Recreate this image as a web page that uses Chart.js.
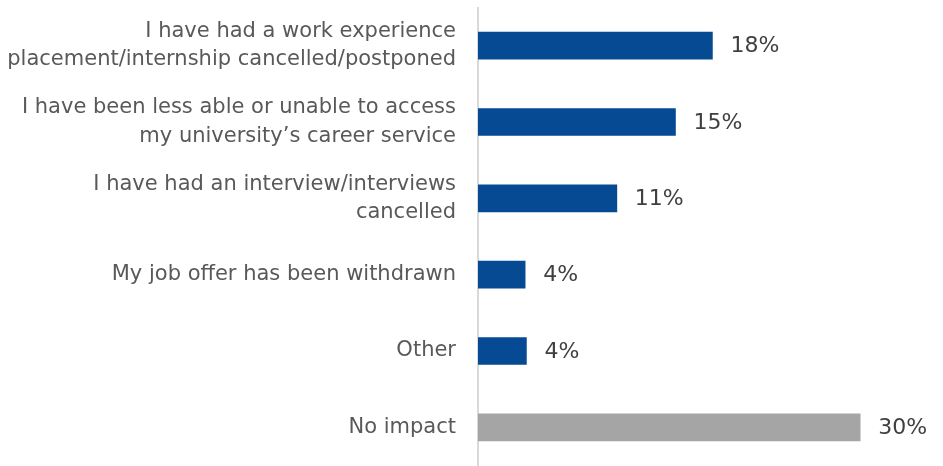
<!DOCTYPE html>
<html>
<head>
<meta charset="utf-8">
<script src="https://cdn.jsdelivr.net/npm/chart.js@4/dist/chart.umd.min.js"></script>
<style>
html,body{margin:0;padding:0;background:#fff;}
#wrap{width:943px;height:466px;position:relative;}
</style>
</head>
<body>
<div id="wrap"><canvas id="c"></canvas></div>
<script>
const categories = [
  ["I have had a work experience", "placement/internship cancelled/postponed"],
  ["I have been less able or unable to access", "my university\u2019s career service"],
  ["I have had an interview/interviews", "cancelled"],
  "My job offer has been withdrawn",
  "Other",
  "No impact"
];
const values = [18.4, 15.5, 10.9, 3.7, 3.8, 30];
const valueLabels = ["18%", "15%", "11%", "4%", "4%", "30%"];
const barColors = ["#064A93", "#064A93", "#064A93", "#064A93", "#064A93", "#A5A5A5"];

const FONT = '"DejaVu Sans", Verdana, sans-serif';

const labelPlugin = {
  id: 'valueLabels',
  afterDatasetsDraw(chart) {
    const ctx = chart.ctx;
    const meta = chart.getDatasetMeta(0);
    ctx.save();
    ctx.font = '22px ' + FONT;
    ctx.fillStyle = '#404040';
    ctx.textAlign = 'left';
    ctx.textBaseline = 'middle';
    meta.data.forEach((bar, i) => {
      ctx.fillText(valueLabels[i], bar.x + 18, bar.y + 1);
    });
    ctx.restore();
  }
};

new Chart(document.getElementById('c'), {
  type: 'bar',
  data: {
    labels: categories,
    datasets: [{
      data: values,
      backgroundColor: barColors,
      borderWidth: 0,
      barThickness: 27
    }]
  },
  options: {
    indexAxis: 'y',
    responsive: true,
    maintainAspectRatio: false,
    animation: false,
    layout: { padding: { top: 7.5, bottom: 0.5, left: 0, right: 0 } },
    plugins: { legend: { display: false }, tooltip: { enabled: false } },
    scales: {
      x: {
        display: false,
        min: 0,
        max: 36.5
      },
      y: {
        grid: { display: false, drawTicks: false },
        border: { display: true, color: '#D9D9D9', width: 2 },
        ticks: {
          color: '#595959',
          padding: 22,
          font: { family: FONT, size: 21, lineHeight: 1.36 }
        },
        afterFit(scale) {
          scale.width = 478;
          scale.paddingTop = 0;
          scale.paddingBottom = 0;
        }
      }
    }
  },
  plugins: [labelPlugin]
});
</script>
</body>
</html>
